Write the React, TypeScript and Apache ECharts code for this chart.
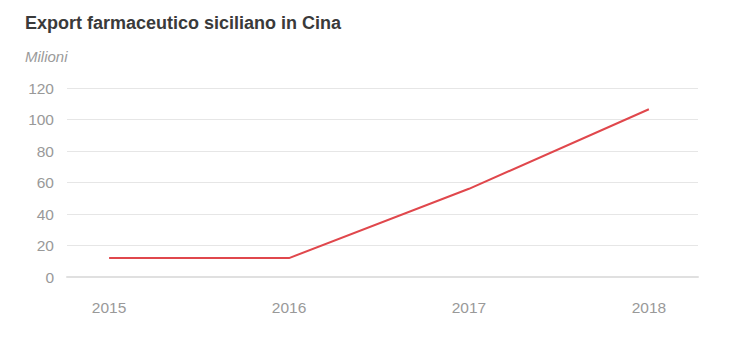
import React, { useEffect, useRef } from "react";
import * as echarts from "echarts";

const years = [2015, 2016, 2017, 2018];
const values = [12, 12, 56, 106.5];
const yTicks = [0, 20, 40, 60, 80, 100, 120];

export default function App() {
  const ref = useRef<HTMLDivElement>(null);
  useEffect(() => {
    document.body.style.margin = "0";
    const chart = echarts.init(ref.current!, undefined, { renderer: "svg" });
    chart.setOption({
      animation: false,
      textStyle: { fontFamily: "Liberation Sans, Arial, sans-serif" },
      title: [
        {
          text: "Export farmaceutico siciliano in Cina",
          left: 20,
          top: 9,
          textStyle: { fontSize: 18, fontWeight: "bold", color: "#3a3a3a", fontFamily: "Liberation Sans, Arial, sans-serif" },
        },
        {
          text: "Milioni",
          left: 20,
          top: 44,
          textStyle: { fontSize: 15, fontStyle: "italic", fontWeight: "normal", color: "#9a9a9a", fontFamily: "Liberation Sans, Arial, sans-serif" },
        },
      ],
      grid: { left: 67, right: 40, top: 88, bottom: 63, containLabel: false },
      xAxis: {
        type: "value",
        min: 2014.766,
        max: 2018.273,
        axisLine: { show: true, lineStyle: { color: "#e0e0e0", width: 2 } },
        axisTick: { show: false },
        splitLine: { show: false },
        axisLabel: {
          customValues: years,
          color: "#999999",
          fontSize: 15.5,
          margin: 22,
          formatter: (v: number) => String(Math.round(v)),
        },
      },
      yAxis: {
        type: "value",
        min: yTicks[0],
        max: yTicks[yTicks.length - 1],
        interval: 20,
        axisLine: { show: false },
        axisTick: { show: false },
        splitLine: { lineStyle: { color: "#e6e6e6", width: 1 } },
        axisLabel: { color: "#999999", fontSize: 15.5, margin: 13 },
      },
      series: [
        {
          type: "line",
          data: years.map((y, i) => [y, values[i]]),
          showSymbol: false,
          lineStyle: { color: "#e0474c", width: 2 },
          itemStyle: { color: "#e0474c" },
        },
      ],
    });
    return () => chart.dispose();
  }, []);
  return <div ref={ref} style={{ width: 738, height: 340 }} />;
}
